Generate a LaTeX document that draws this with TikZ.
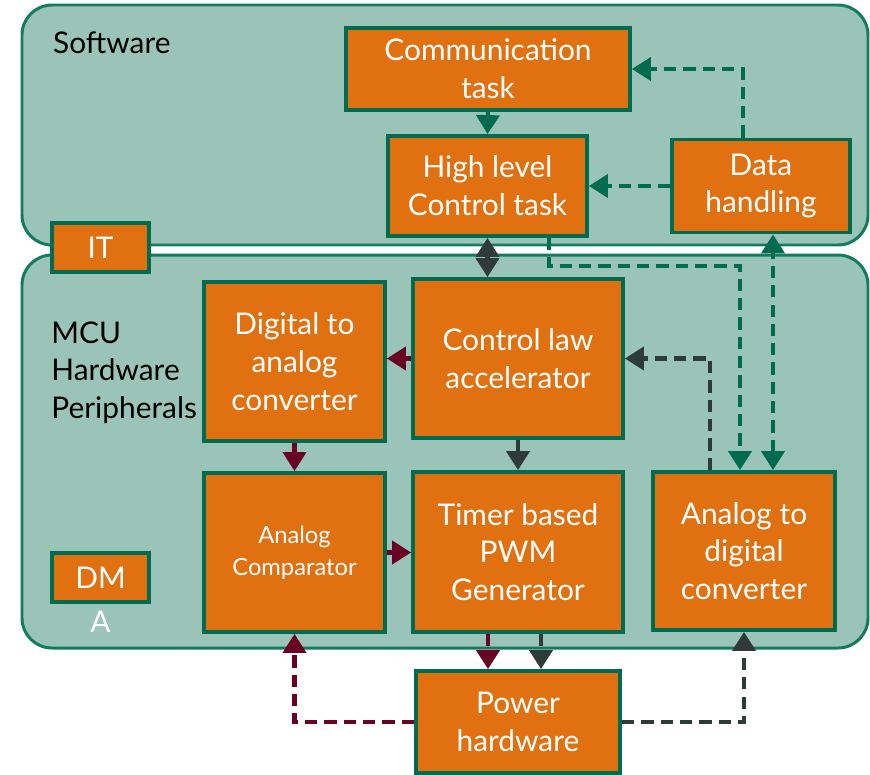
\documentclass[tikz,border=0pt]{standalone}
\usepackage{fontspec}
\setmainfont{Lato}
\usetikzlibrary{arrows.meta,positioning,calc}
\definecolor{hwor}{HTML}{E07010}
\definecolor{boxgr}{HTML}{006B4F}
\definecolor{zonefill}{HTML}{9AC4B7}
\definecolor{zoneline}{HTML}{127C5C}
\definecolor{sigred}{HTML}{6A0024}
\definecolor{siggray}{HTML}{2F3B39}
\tikzset{
  blk/.style={rectangle, draw=boxgr, line width=2.2pt, fill=hwor, text=white,
              align=center, font=\fontsize{17}{21.5}\selectfont},
  zone/.style={rounded corners=0.6cm, draw=zoneline, line width=1.7pt, fill=zonefill},
  lnk/.style={-{Triangle[length=3.8mm,width=4.6mm]}, line width=2.3pt, draw=#1},
  dlnk/.style={lnk=#1, dash pattern=on 7pt off 4pt},
  dbl/.style={{Triangle[length=3.8mm,width=4.6mm]}-{Triangle[length=3.8mm,width=4.6mm]},
              line width=2.3pt, draw=#1},
}

\begin{document}
\begin{tikzpicture}[x=0.02cm, y=-0.02cm]
  \useasboundingbox (0,0) rectangle (870,775);
  % zones
  \draw[zone] (22,5) rectangle (868,245);
  \draw[zone] (22,255) rectangle (868,648);
  \node[anchor=west, font=\fontsize{17}{21.5}\selectfont] (swlbl) at (47,43) {Software};
  \node[anchor=north west, align=left, inner sep=0pt, font=\fontsize{17}{21.5}\selectfont] (hwlbl)
    at (51,321) {MCU\\Hardware\\Peripherals};
  \node[blk, minimum width=1.94cm, minimum height=0.98cm] (it) at (100.5,247.5) {IT};
  \node[blk, minimum width=1.94cm, minimum height=0.98cm] (dm) at (100.5,577.5) {DM};
  \node[text=white, font=\fontsize{17}{21.5}\selectfont] (dma) at (100.5,622) {A};
  % software blocks
  \node[blk, minimum width=5.68cm, minimum height=1.64cm] (comm) at (488,69) {Communication\\task};
  \node[blk, minimum width=3.98cm, minimum height=2.0cm] (hlc) at (487.5,186) {High level\\Control task};
  \node[blk, minimum width=3.56cm, minimum height=1.86cm] (dh) at (761,186) {Data\\handling};
  % hardware blocks
  \node[blk, minimum width=3.62cm, minimum height=3.18cm] (dac) at (294.5,361.5) {Digital to\\analog\\converter};
  \node[blk, minimum width=4.2cm, minimum height=3.18cm] (cla) at (518,358.5) {Control law\\accelerator};
  \node[blk, minimum width=3.62cm, minimum height=3.18cm, font=\fontsize{13.5}{18}\selectfont] (cmp)
    at (294.5,552.5) {Analog\\Comparator};
  \node[blk, minimum width=4.2cm, minimum height=3.2cm] (pwm) at (518,552) {Timer based\\PWM\\Generator};
  \node[blk, minimum width=3.64cm, minimum height=3.16cm] (adc) at (744,551) {Analog to\\digital\\converter};
  \node[blk, minimum width=4.08cm, minimum height=2.04cm] (pwr) at (518,722) {Power\\hardware};
  % links
  \draw[lnk=boxgr] (comm.south) -- (hlc.north);
  \draw[dlnk=boxgr] ([xshift=-0.36cm]dh.north) |- (comm.east);
  \draw[dlnk=boxgr] (dh.west) -- (dh.west -| hlc.east);
  \draw[dbl=siggray] (hlc.south) -- (hlc.south |- cla.north);
  \draw[dlnk=boxgr] ([xshift=1.23cm]hlc.south) -- ++(0,28) -| ([xshift=-0.08cm]adc.north);
  \draw[dbl=boxgr, dash pattern=on 7pt off 4pt] ([xshift=0.58cm]adc.north) -- ([xshift=0.58cm]adc.north |- dh.south);
  \draw[dlnk=siggray] ([xshift=-0.68cm]adc.north) |- (cla.east);
  \draw[lnk=sigred] (cla.west) -- (cla.west -| dac.east);
  \draw[dlnk=sigred] (dac.south) -- (cmp.north);
  \draw[dlnk=siggray] (cla.south) -- (pwm.north);
  \draw[lnk=sigred] (cmp.east) -- (cmp.east -| pwm.west);
  \draw[dlnk=sigred] ([xshift=-0.6cm]pwm.south) -- ([xshift=-0.6cm]pwm.south |- pwr.north);
  \draw[dlnk=siggray] ([xshift=0.46cm]pwm.south) -- ([xshift=0.46cm]pwm.south |- pwr.north);
  \draw[dlnk=sigred] (pwr.west) -| (cmp.south);
  \draw[dlnk=siggray] (pwr.east) -| (adc.south);
\end{tikzpicture}
\end{document}
